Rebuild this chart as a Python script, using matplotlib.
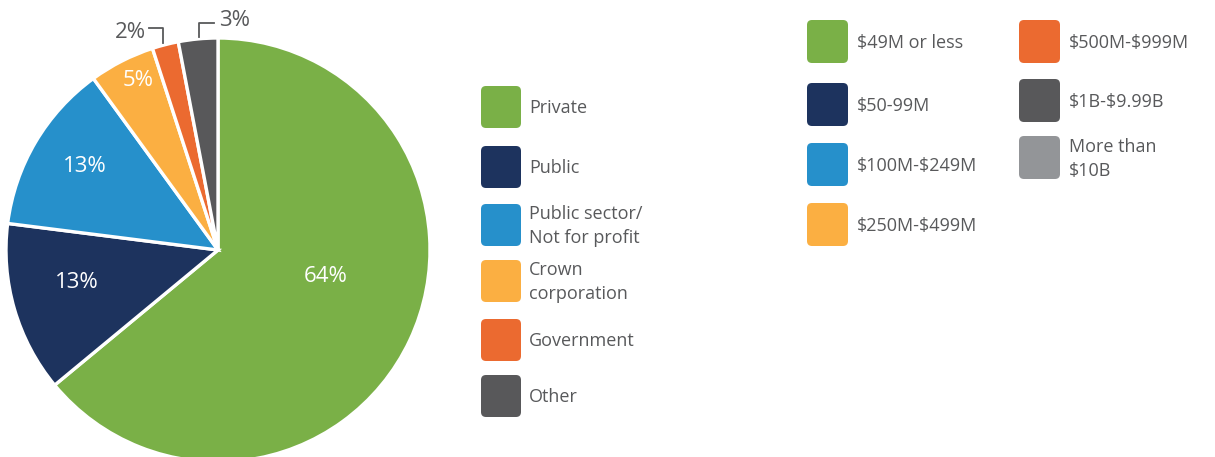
import matplotlib.pyplot as plt
from matplotlib.patches import FancyBboxPatch

plt.rcParams['font.family'] = ['Open Sans', 'DejaVu Sans']
plt.rcParams['text.parse_math'] = False

# organisation type breakdown
org_types = ['Private', 'Public', 'Public sector/\nNot for profit', 'Crown\ncorporation', 'Government', 'Other']
org_share = [64, 13, 13, 5, 2, 3]
org_colors = ['#7ab047', '#1d335e', '#2690cb', '#fbaf42', '#eb6a30', '#58585a']

# revenue bands (legend only)
revenue_bands = ['$49M or less', '$50-99M', '$100M-$249M', '$250M-$499M',
                 '$500M-$999M', '$1B-$9.99B', 'More than\n$10B']
revenue_colors = ['#7ab047', '#1d335e', '#2690cb', '#fbaf42',
                  '#eb6a30', '#58585a', '#939598']

text_color = '#58595b'
W, H = 1215, 457

fig = plt.figure(figsize=(W / 100, H / 100), dpi=100)

# pie axes: centre (218, 250) px, radius 212 px
cx, cy, r = 218, 250, 212
ax = fig.add_axes([(cx - r) / W, (H - cy - r) / H, 2 * r / W, 2 * r / H])
wedges, _ = ax.pie(org_share, colors=org_colors, startangle=90, counterclock=False,
                   radius=1, wedgeprops=dict(edgecolor='white', linewidth=2.4))
ax.set_xlim(-1, 1)
ax.set_ylim(-1, 1)
ax.axis('off')

# overlay in pixel coordinates for labels and legends
ov = fig.add_axes([0, 0, 1, 1])
ov.set_xlim(0, W)
ov.set_ylim(H, 0)
ov.axis('off')

inside_pos = [(326, 276), (77, 282), (85, 167), (138, 80)]
for (x, y), v in zip(inside_pos, org_share[:4]):
    ov.text(x, y, f'{v}%', color='white', fontsize=16, ha='center', va='center')

# small slices labelled outside with bracket leaders
ov.text(130, 33, f'{org_share[4]}%', color=text_color, fontsize=16, ha='center', va='center')
ov.plot([149, 163, 163], [28, 28, 43], color=text_color, lw=1.3)
ov.text(235, 20, f'{org_share[5]}%', color=text_color, fontsize=16, ha='center', va='center')
ov.plot([199, 199, 214], [37, 23, 23], color=text_color, lw=1.3)


def swatch(x, y, color, w=40, h=42):
    ov.add_patch(FancyBboxPatch((x, y), w, h, boxstyle='round,pad=0,rounding_size=5',
                                facecolor=color, edgecolor='none'))


# left legend
left_tops = [86, 146, 204, 260, 319, 375]
for top, lab, c in zip(left_tops, org_types, org_colors):
    swatch(481, top, c)
    ov.text(529, top + 22, lab, color=text_color, fontsize=13, ha='left', va='center',
            linespacing=1.4)

# right legend, two columns
right_pos = [(807, 20), (807, 83), (807, 143), (807, 203),
             (1019, 20), (1019, 79), (1019, 136)]
for (x, top), lab, c in zip(right_pos, revenue_bands, revenue_colors):
    swatch(x, top, c, w=41, h=43)
    ov.text(x + 50, top + 23, lab, color=text_color, fontsize=13, ha='left', va='center',
            linespacing=1.4)

fig.savefig('out.png', dpi=100)
